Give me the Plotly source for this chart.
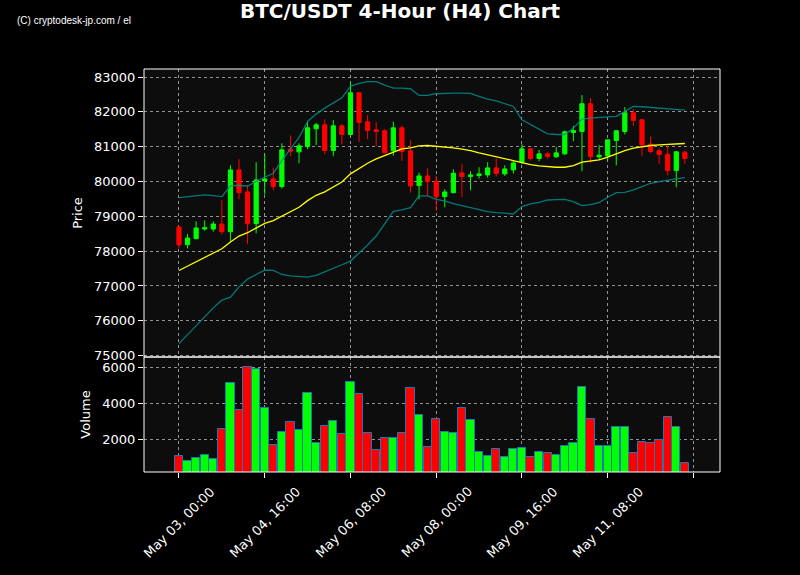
import pandas as pd
import plotly.graph_objects as go

dates = pd.date_range("2025-05-03 00:00", periods=60, freq="4h")

opens = [78692, 78184, 78357, 78635, 78635, 78779, 78558, 80333, 79700, 78788,
         80016, 80074, 79853, 80927, 80851, 81004, 81512, 81628, 80889, 81599,
         81349, 82548, 81714, 81484, 81455, 80879, 81541, 80879, 79882, 80160,
         80006, 79565, 79680, 80246, 80141, 80170, 80189, 80390, 80218, 80333,
         80553, 80937, 80659, 80793, 80707, 80793, 81407, 81436, 82232, 80707,
         80735, 81177, 81436, 81973, 81772, 81071, 80879, 80783, 80314, 80841]
highs = [78720, 78491, 78856, 78884, 78856, 79460, 80467, 80640, 79901, 80553,
         80774, 80400, 81100, 81321, 81100, 81714, 81685, 81791, 81762, 81647,
         82855, 82560, 81906, 81704, 81503, 81714, 81599, 81196, 80256, 80381,
         80160, 79776, 80352, 80496, 80294, 80409, 80553, 80659, 80467, 80601,
         81071, 80950, 80908, 80841, 80985, 81465, 81599, 82481, 82395, 81042,
         81200, 81474, 82136, 82078, 81800, 81292, 80956, 81023, 80870, 80889]
lows = [78079, 78079, 78357, 78587, 78558, 78481, 78270, 79489, 78203, 78510,
        79623, 79748, 79796, 80726, 80525, 80927, 81042, 80783, 80726, 81062,
        81311, 81129, 81215, 81014, 80812, 80736, 80592, 79680, 79489, 79585,
        79162, 79258, 79660, 79546, 79748, 80083, 80112, 80141, 80160, 80227,
        80505, 80601, 80582, 80649, 80678, 80764, 81158, 80294, 80534, 80620,
        80601, 80467, 81349, 81599, 80735, 80812, 80505, 80179, 79834, 80505]
closes = [78184, 78376, 78664, 78673, 78779, 78558, 80333, 79680, 78788, 80045,
          80074, 79853, 80908, 80870, 81023, 81541, 81628, 80889, 81599, 81349,
          82548, 81695, 81464, 81436, 80822, 81541, 80860, 79872, 80160, 80006,
          79565, 79700, 80237, 80141, 80189, 80218, 80390, 80227, 80361, 80534,
          80937, 80659, 80793, 80716, 80822, 81426, 81464, 82232, 80716, 80755,
          81196, 81455, 81973, 81752, 81052, 80860, 80774, 80314, 80851, 80659]
volumes = [1053, 775, 942, 1109, 886, 2553, 5109, 3627, 5998, 5887,
           3720, 1683, 2386, 2942, 2498, 4553, 1775, 2738, 2998, 2275,
           5164, 4498, 2331, 1386, 2053, 2053, 2331, 4831, 3331, 1553,
           3109, 2386, 2331, 3720, 3053, 1312, 1053, 1442, 997, 1442,
           1497, 997, 1312, 1220, 1109, 1609, 1775, 4887, 3109, 1609,
           1609, 2664, 2664, 1220, 1831, 1775, 1942, 3220, 2664, 664]
sma = [77445, 77570, 77705, 77829, 77963, 78069, 78261, 78434, 78529, 78664,
       78798, 78875, 79009, 79134, 79258, 79450, 79604, 79700, 79853, 79987,
       80218, 80381, 80525, 80649, 80745, 80851, 80937, 80966, 81023, 81033,
       81014, 80985, 80966, 80927, 80889, 80822, 80764, 80716, 80649, 80592,
       80525, 80486, 80448, 80419, 80409, 80409, 80457, 80553, 80582, 80620,
       80697, 80793, 80889, 80956, 81004, 81033, 81052, 81062, 81081, 81091]
upper = [79537, 79556, 79585, 79613, 79594, 79565, 79872, 79892, 79863, 80006,
         80122, 80237, 80601, 80947, 81263, 81724, 81935, 82107, 82251, 82404,
         82731, 82817, 82865, 82865, 82769, 82683, 82683, 82663, 82472, 82472,
         82520, 82539, 82539, 82539, 82529, 82443, 82366, 82318, 82241, 82155,
         81771, 81637, 81512, 81369, 81349, 81349, 81532, 81791, 81819, 81848,
         81858, 81868, 82011, 82155, 82146, 82127, 82107, 82088, 82069, 82050]
lower = [75345, 75604, 75853, 76103, 76371, 76592, 76678, 76975, 77196, 77330,
         77455, 77446, 77330, 77292, 77264, 77254, 77302, 77398, 77493, 77609,
         77714, 77935, 78175, 78434, 78779, 79143, 79182, 79249, 79585, 79585,
         79489, 79441, 79364, 79306, 79230, 79182, 79134, 79105, 79076, 79067,
         79278, 79354, 79402, 79469, 79479, 79489, 79421, 79306, 79335, 79393,
         79546, 79681, 79690, 79757, 79853, 79949, 79997, 80026, 80074, 80112]

price_ticks = [75000, 76000, 77000, 78000, 79000, 80000, 81000, 82000, 83000]
price_tick_labels = ["75000", "76000", "77000", "78000", "79000", "80000", "81000", "82000", "83000"]
volume_ticks = [2000, 4000, 6000]
volume_tick_labels = ["2000", "4000", "6000"]
x_tick_dates = pd.date_range("2025-05-03 00:00", periods=7, freq="40h")
x_tick_labels = ["May 03, 00:00", "May 04, 16:00", "May 06, 08:00", "May 08, 00:00",
                 "May 09, 16:00", "May 11, 08:00", ""]

UP = "#00ff00"
DOWN = "#ff0000"
step = pd.Timedelta(hours=4)
vol_colors = [UP if c >= o else DOWN for o, c in zip(opens, closes)]

fig = go.Figure()

fig.add_trace(go.Candlestick(
    x=dates, open=opens, high=highs, low=lows, close=closes,
    increasing=dict(line=dict(color=UP, width=1), fillcolor=UP),
    decreasing=dict(line=dict(color=DOWN, width=1), fillcolor=DOWN),
    whiskerwidth=0, xaxis="x", yaxis="y", hoverinfo="skip", showlegend=False,
))
fig.add_trace(go.Scatter(x=dates, y=upper, mode="lines",
                         line=dict(color="rgba(0,140,140,0.85)", width=1.3),
                         xaxis="x", yaxis="y", hoverinfo="skip", showlegend=False))
fig.add_trace(go.Scatter(x=dates, y=lower, mode="lines",
                         line=dict(color="rgba(0,140,140,0.85)", width=1.3),
                         xaxis="x", yaxis="y", hoverinfo="skip", showlegend=False))
fig.add_trace(go.Scatter(x=dates, y=sma, mode="lines",
                         line=dict(color="#ffff00", width=1.3),
                         xaxis="x", yaxis="y", hoverinfo="skip", showlegend=False))
fig.add_trace(go.Bar(x=dates, y=volumes, width=step.total_seconds() * 1000 * 0.96,
                     marker=dict(color=vol_colors, line=dict(color="#1f77b4", width=1)),
                     xaxis="x", yaxis="y2", hoverinfo="skip", showlegend=False))

grid = dict(showgrid=True, gridcolor="rgba(190,190,190,0.75)", griddash="dot", gridwidth=1)
FONT = "DejaVu Sans"
tickfont = dict(family=FONT, size=13, color="white")

x0 = dates[0] - step * 4.08
x1 = dates[0] + step * 63.1

vol_frac = (472 - 357) / 403.0

annotations = [
    dict(text="(C) cryptodesk-jp.com / el", xref="paper", yref="paper",
         x=-129 / 576, y=1 + 48 / 403, xanchor="left", yanchor="middle", showarrow=False,
         font=dict(family="Liberation Sans", size=10, color="white")),
]
for d, lab in zip(x_tick_dates, x_tick_labels):
    if lab:
        annotations.append(dict(text=lab, x=d, xref="x", y=0, yref="y2 domain",
                                xanchor="center", yanchor="top", yshift=-9,
                                textangle=-45, showarrow=False, font=tickfont))

fig.update_layout(
    width=800, height=575,
    paper_bgcolor="black", plot_bgcolor="#0d0d0d",
    margin=dict(l=144, r=80, t=69, b=103, autoexpand=False),
    bargap=0,
    title=dict(text="<b>BTC/USDT 4-Hour (H4) Chart</b>", x=0.5, xanchor="center",
               y=1 - 11 / 575, yanchor="middle",
               font=dict(family=FONT, size=20, color="white")),
    xaxis=dict(type="date", range=[x0, x1], anchor="y2", automargin=False,
               tickmode="array", tickvals=list(x_tick_dates), showticklabels=False,
               ticks="outside", ticklen=5, tickcolor="white",
               rangeslider=dict(visible=False),
               showline=False, zeroline=False, **grid),
    yaxis=dict(domain=[vol_frac, 1], range=[74960, 83230], automargin=False,
               tickmode="array", tickvals=price_ticks, ticktext=price_tick_labels,
               ticks="outside", ticklen=5,
               tickcolor="white", tickfont=tickfont, zeroline=False,
               title=dict(text="Price", font=dict(family=FONT, size=13, color="white"),
                          standoff=8),
               **grid),
    yaxis2=dict(domain=[0, vol_frac], range=[183, 6556], automargin=False,
                tickmode="array", tickvals=volume_ticks, ticktext=volume_tick_labels,
                ticks="outside", ticklen=5,
                tickcolor="white", tickfont=tickfont, zeroline=False,
                title=dict(text="Volume", font=dict(family=FONT, size=13, color="white"),
                           standoff=8),
                **grid),
    shapes=[
        dict(type="rect", xref="x domain", yref="y domain", x0=0, x1=1, y0=0, y1=1,
             line=dict(color="white", width=1), fillcolor="rgba(0,0,0,0)", layer="above"),
        dict(type="rect", xref="x domain", yref="y2 domain", x0=0, x1=1, y0=0, y1=1,
             line=dict(color="white", width=1), fillcolor="rgba(0,0,0,0)", layer="above"),
    ],
    annotations=annotations,
)

fig.write_html("out.html", config={"displayModeBar": False},
               post_script="document.body.style.margin='0';document.body.style.background='black';")
